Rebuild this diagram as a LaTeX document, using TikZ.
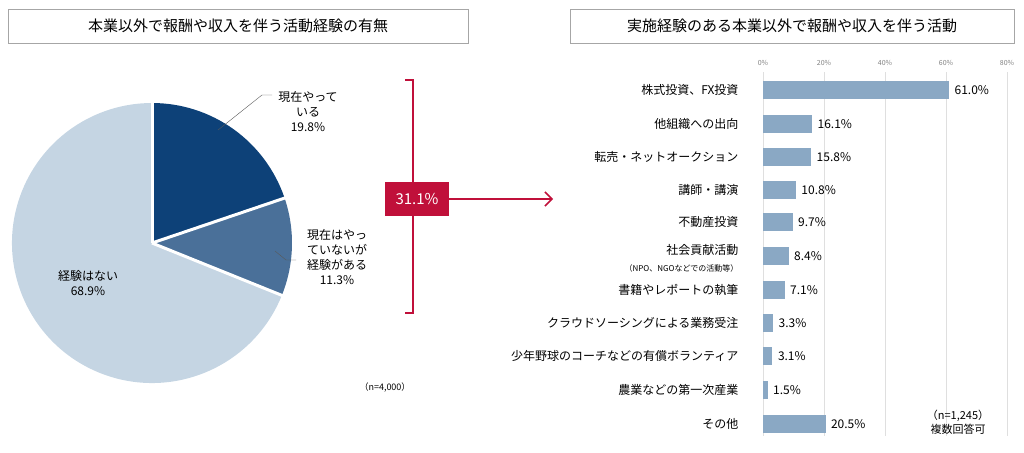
\documentclass[tikz,border=0pt]{standalone}
\usepackage{fontspec}
\setmainfont{Noto Sans CJK JP}
\usetikzlibrary{arrows.meta}
\definecolor{navy}{HTML}{0D4178}
\definecolor{midblue}{HTML}{4A7099}
\definecolor{paleblue}{HTML}{C5D5E3}
\definecolor{barblue}{HTML}{8AA8C4}
\definecolor{brick}{HTML}{C0103A}
\tikzset{
  titlebox/.style={draw=gray!70, line width=0.8pt, font=\fontsize{15}{17}\selectfont},
  rowlabel/.style={anchor=east, font=\fontsize{12}{14}\selectfont},
  vallabel/.style={anchor=west, font=\fontsize{12}{14}\selectfont},
  slice/.style={draw=white, line width=3pt},
}
\begin{document}
\begin{tikzpicture}[x=1pt,y=-1pt]
        \useasboundingbox (0,0) rectangle (1024,452);
        % Titles
        \node[titlebox, minimum width=460, minimum height=34] (lefttitle) at (238,26) {本業以外で報酬や収入を伴う活動経験の有無};
        \node[titlebox, minimum width=444, minimum height=34] (righttitle) at (792,26) {実施経験のある本業以外で報酬や収入を伴う活動};

        % Pie
        \coordinate (pc) at (152,243);
        \fill[paleblue] (pc) -- ++(21.96:140) arc[start angle=21.96, end angle=270, radius=140] -- cycle;
        \fill[navy] (pc) -- ++(-90:140) arc[start angle=-90, end angle=-18.72, radius=140] -- cycle;
        \fill[midblue] (pc) -- ++(-18.72:140) arc[start angle=-18.72, end angle=21.96, radius=140] -- cycle;
        \draw[slice] (pc) -- ++(-90:142);
        \draw[slice] (pc) -- ++(-18.72:142);
        \draw[slice] (pc) -- ++(21.96:142);

        % Pie labels
        \node[align=center, font=\fontsize{12}{15}\selectfont] (now) at (308,112) {現在やって\\いる\\19.8\%};
        \node[align=center, font=\fontsize{12}{15}\selectfont] (past) at (337,257) {現在はやっ\\ていないが\\経験がある\\11.3\%};
        \node[align=center, font=\fontsize{12}{15}\selectfont] (never) at (88,283) {経験はない\\68.9\%};
        \draw[gray!70!black, thin] (272,95) -- (262,95) -- (218,130);
        \draw[gray!70!black, thin] (296,260) -- (286,260) -- (275,251);
        \node[font=\fontsize{9}{11}\selectfont] (nleft) at (385,387) {（n=4,000）};

        % Bracket and arrow
        \draw[brick, line width=1.2pt] (405,80) -- (413,80) -- (413,313) -- (405,313);
        \node[fill=brick, text=white, minimum width=64, minimum height=34, font=\fontsize{15}{17}\selectfont] (total) at (417,199) {31.1\%};
        \coordinate (arrowend) at (553,199);
        \draw[brick, line width=1.5pt, -{Straight Barb[length=7pt, width=14pt]}] (total.east) -- (arrowend);

        % Grid and axis ticks
        \foreach \p in {0,20,40,60,80} {
          \draw[gray!25] (763+3.05*\p,72) -- (763+3.05*\p,436);
          \node[font=\fontsize{7}{8}\selectfont, text=gray] at (763+3.05*\p,63) {\p\%};
        }

        % Bars
        \foreach \y/\v/\lab in {90/61.0/株式投資、FX投資, 124/16.1/他組織への出向, 157/15.8/転売・ネットオークション, 190/10.8/講師・講演, 222/9.7/不動産投資, 290/7.1/書籍やレポートの執筆, 323/3.3/クラウドソーシングによる業務受注, 356/3.1/少年野球のコーチなどの有償ボランティア, 390/1.5/農業などの第一次産業, 424/20.5/その他} {
          \fill[barblue] (763,\y-9) rectangle (763+3.05*\v,\y+9);
          \node[rowlabel] at (742,\y) {\lab};
          \node[vallabel] at (765+3.05*\v,\y) {\v\%};
        }
        \fill[barblue] (763,247) rectangle (763+3.05*8.4,265);
        \node[rowlabel] (social) at (742,250) {社会貢献活動};
        \node[anchor=east, font=\fontsize{8}{9}\selectfont] (socialsub) at (742,268) {（NPO、NGOなどでの活動等）};
        \node[vallabel] at (765+3.05*8.4,256) {8.4\%};

        % Notes
        \node[align=center, font=\fontsize{11}{14}\selectfont] (nright) at (958,422) {（n=1,245）\\複数回答可};
\end{tikzpicture}
\end{document}
